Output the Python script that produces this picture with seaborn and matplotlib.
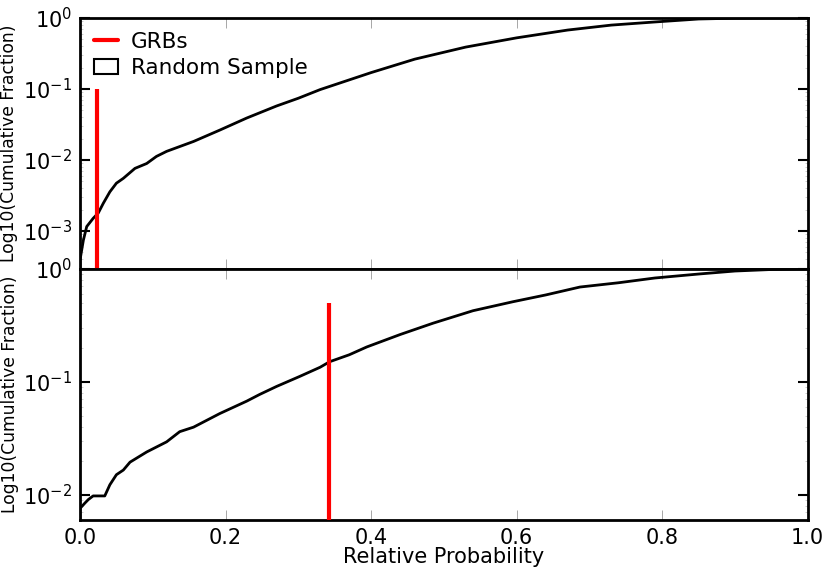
import numpy as np
import pandas as pd
import matplotlib
matplotlib.use("Agg")
import matplotlib.pyplot as plt
from matplotlib.lines import Line2D
from matplotlib.patches import Patch
from matplotlib.ticker import LogLocator, FixedLocator
import seaborn as sns

# ---- data ----
top_x = [0.0, 0.0, 0.0046, 0.0092, 0.018, 0.025, 0.032, 0.041, 0.050, 0.0595, 0.0755,
         0.0916, 0.105, 0.119, 0.156, 0.192, 0.229, 0.270, 0.300, 0.330, 0.400, 0.460,
         0.530, 0.600, 0.670, 0.730, 0.790, 0.850, 0.900, 0.950, 1.0]
top_y = [2.9e-4, 3.9e-4, 7.4e-4, 1.15e-3, 1.5e-3, 1.78e-3, 2.45e-3, 3.55e-3, 4.7e-3,
         5.5e-3, 7.6e-3, 8.9e-3, 0.0112, 0.0132, 0.0182, 0.0263, 0.0389, 0.0575, 0.074,
         0.098, 0.17, 0.263, 0.389, 0.525, 0.676, 0.794, 0.879, 0.968, 0.993, 1.0, 1.0]

bot_x = [0.0, 0.0, 0.0069, 0.0114, 0.018, 0.034, 0.041, 0.050, 0.0595, 0.0687, 0.0916,
         0.119, 0.137, 0.156, 0.192, 0.229, 0.247, 0.270, 0.302, 0.330, 0.343, 0.370,
         0.394, 0.440, 0.485, 0.540, 0.595, 0.640, 0.687, 0.740, 0.790, 0.850, 0.900,
         0.950, 1.0]
bot_y = [0.006, 0.0076, 0.0085, 0.0091, 0.0098, 0.0098, 0.0123, 0.0151, 0.0166, 0.0195,
         0.024, 0.0295, 0.0363, 0.0398, 0.0525, 0.0676, 0.0776, 0.0912, 0.112, 0.135,
         0.151, 0.174, 0.204, 0.263, 0.331, 0.427, 0.513, 0.589, 0.692, 0.755, 0.832,
         0.902, 0.959, 0.989, 1.0]

grb_x = [0.023, 0.342]
grb_top = [0.1, 0.5]
ylims = [(2.9e-4, 1.0), (0.006, 1.0)]
x_ticks = [0.0, 0.2, 0.4, 0.6, 0.8, 1.0]
x_tick_labels = ["0.0", "0.2", "0.4", "0.6", "0.8", "1.0"]
y_ticks = [[1e-3, 1e-2, 1e-1, 1e0], [1e-2, 1e-1, 1e0]]

sns.set_style("white")
plt.rcParams["font.family"] = ["DejaVu Sans"]
plt.rcParams["mathtext.fontset"] = "dejavusans"
plt.rcParams["text.color"] = "black"
plt.rcParams["axes.labelcolor"] = "black"
plt.rcParams["xtick.labelcolor"] = "black"
plt.rcParams["ytick.labelcolor"] = "black"

fig = plt.figure(figsize=(8.31, 5.73), dpi=100)
ax1 = fig.add_axes([0.0963, 0.5305, 0.8757, 0.4381])
ax2 = fig.add_axes([0.0963, 0.0925, 0.8757, 0.4381], sharex=ax1)

curves = [(top_x, top_y), (bot_x, bot_y)]
for i, ax in enumerate([ax1, ax2]):
    cx, cy = curves[i]
    df = pd.DataFrame({"x": cx, "y": cy})
    sns.lineplot(data=df, x="x", y="y", ax=ax, color="black", lw=2.0,
                 estimator=None, sort=False)
    ax.set_yscale("log")
    ax.set_ylim(*ylims[i])
    ax.set_xlim(0, 1)
    ax.vlines(grb_x[i], ylims[i][0], grb_top[i], color="red", lw=3.0, zorder=3)
    ax.set_ylabel("Log10(Cumulative Fraction)", fontsize=12.3, labelpad=3)
    ax.set_xlabel("")
    for s in ax.spines.values():
        s.set_linewidth(2.0)
        s.set_color("black")
        s.set_visible(True)
    ax.yaxis.set_major_locator(FixedLocator(y_ticks[i]))
    ax.yaxis.set_minor_locator(LogLocator(base=10, subs=np.arange(2, 10)))
    ax.tick_params(axis="y", which="major", direction="in", length=7, width=1.5,
                   color="black", left=True, right=True, labelsize=15, pad=6,
                   labelcolor="black")
    ax.tick_params(axis="y", which="minor", direction="in", length=2, width=0.5,
                   color="#bbbbbb", left=True, right=True)
    ax.set_xticks(x_ticks)
    ax.xaxis.set_minor_locator(FixedLocator([]))
    ax.tick_params(axis="x", which="major", direction="in", length=7, width=0.6,
                   color="#999999", top=True, bottom=True, labelsize=15, pad=6,
                   labelcolor="black")

ax1.tick_params(axis="x", labelbottom=False)
ax2.set_xticklabels(x_tick_labels)
ax2.set_xlabel("Relative Probability", fontsize=15, labelpad=-1)

handles = [Line2D([0], [0], color="red", lw=3.0),
           Patch(facecolor="none", edgecolor="black", linewidth=1.5)]
ax1.legend(handles, ["GRBs", "Random Sample"], loc="upper left", frameon=False,
           fontsize=15.5, handlelength=1.1, handletextpad=0.6, borderaxespad=0.25,
           labelspacing=0.3)

fig.savefig("out.png", dpi=100)
